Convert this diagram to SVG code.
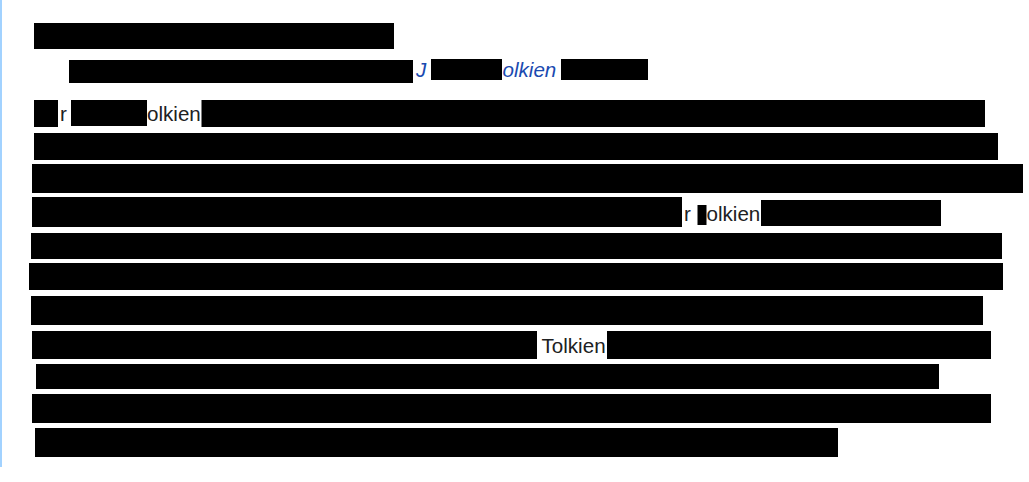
<svg xmlns="http://www.w3.org/2000/svg" width="1029" height="482" viewBox="0 0 1029 482">
<style>
.b{fill:#000}
.t{font-family:"Liberation Sans",Arial,sans-serif;font-size:20.6px;fill:#202122}
.l{font-family:"Liberation Sans",Arial,sans-serif;font-size:20.6px;font-style:italic;fill:#1a4ab0}
</style>
<rect x="0" y="0" width="1029" height="482" fill="#fff"/>
<rect x="0" y="0" width="2" height="467" fill="#a2d2ff"/>
<g id="title"><rect class="b" x="34" y="23" width="360" height="26"/></g>
<g id="hatnote">
<rect class="b" x="69" y="60" width="344" height="23"/>
<text class="l" x="416" y="77">J</text>
<rect class="b" x="431" y="59" width="71" height="21"/>
<text class="l" x="502.5" y="77">olkien</text>
<rect class="b" x="561" y="59" width="87" height="21"/>
</g>
<g id="para">
<rect class="b" x="34" y="100" width="24" height="27"/>
<text class="t" x="60" y="121">r</text>
<rect class="b" x="71" y="100" width="76" height="26"/>
<text class="t" x="147" y="121">olkien</text>
<rect class="b" x="201.5" y="100" width="783.5" height="27"/>
<rect class="b" x="34" y="133" width="964" height="27"/>
<rect class="b" x="32" y="164" width="991" height="29"/>
<rect class="b" x="32" y="197" width="650" height="30"/>
<text class="t" x="684" y="220.5">r</text>
<rect class="b" x="697.5" y="205" width="9" height="20"/>
<text class="t" x="706.5" y="220.5">olkien</text>
<rect class="b" x="761" y="200" width="180" height="26"/>
<rect class="b" x="31" y="233" width="971" height="26"/>
<rect class="b" x="29" y="263" width="974" height="27"/>
<rect class="b" x="31" y="296" width="952" height="29"/>
<rect class="b" x="32" y="331" width="505" height="28"/>
<text class="t" x="541.5" y="353">Tolkien</text>
<rect class="b" x="607" y="331" width="384" height="28"/>
<rect class="b" x="36" y="364" width="903" height="25"/>
<rect class="b" x="32" y="394" width="959" height="29"/>
<rect class="b" x="35" y="428" width="803" height="29"/>
</g>
</svg>
